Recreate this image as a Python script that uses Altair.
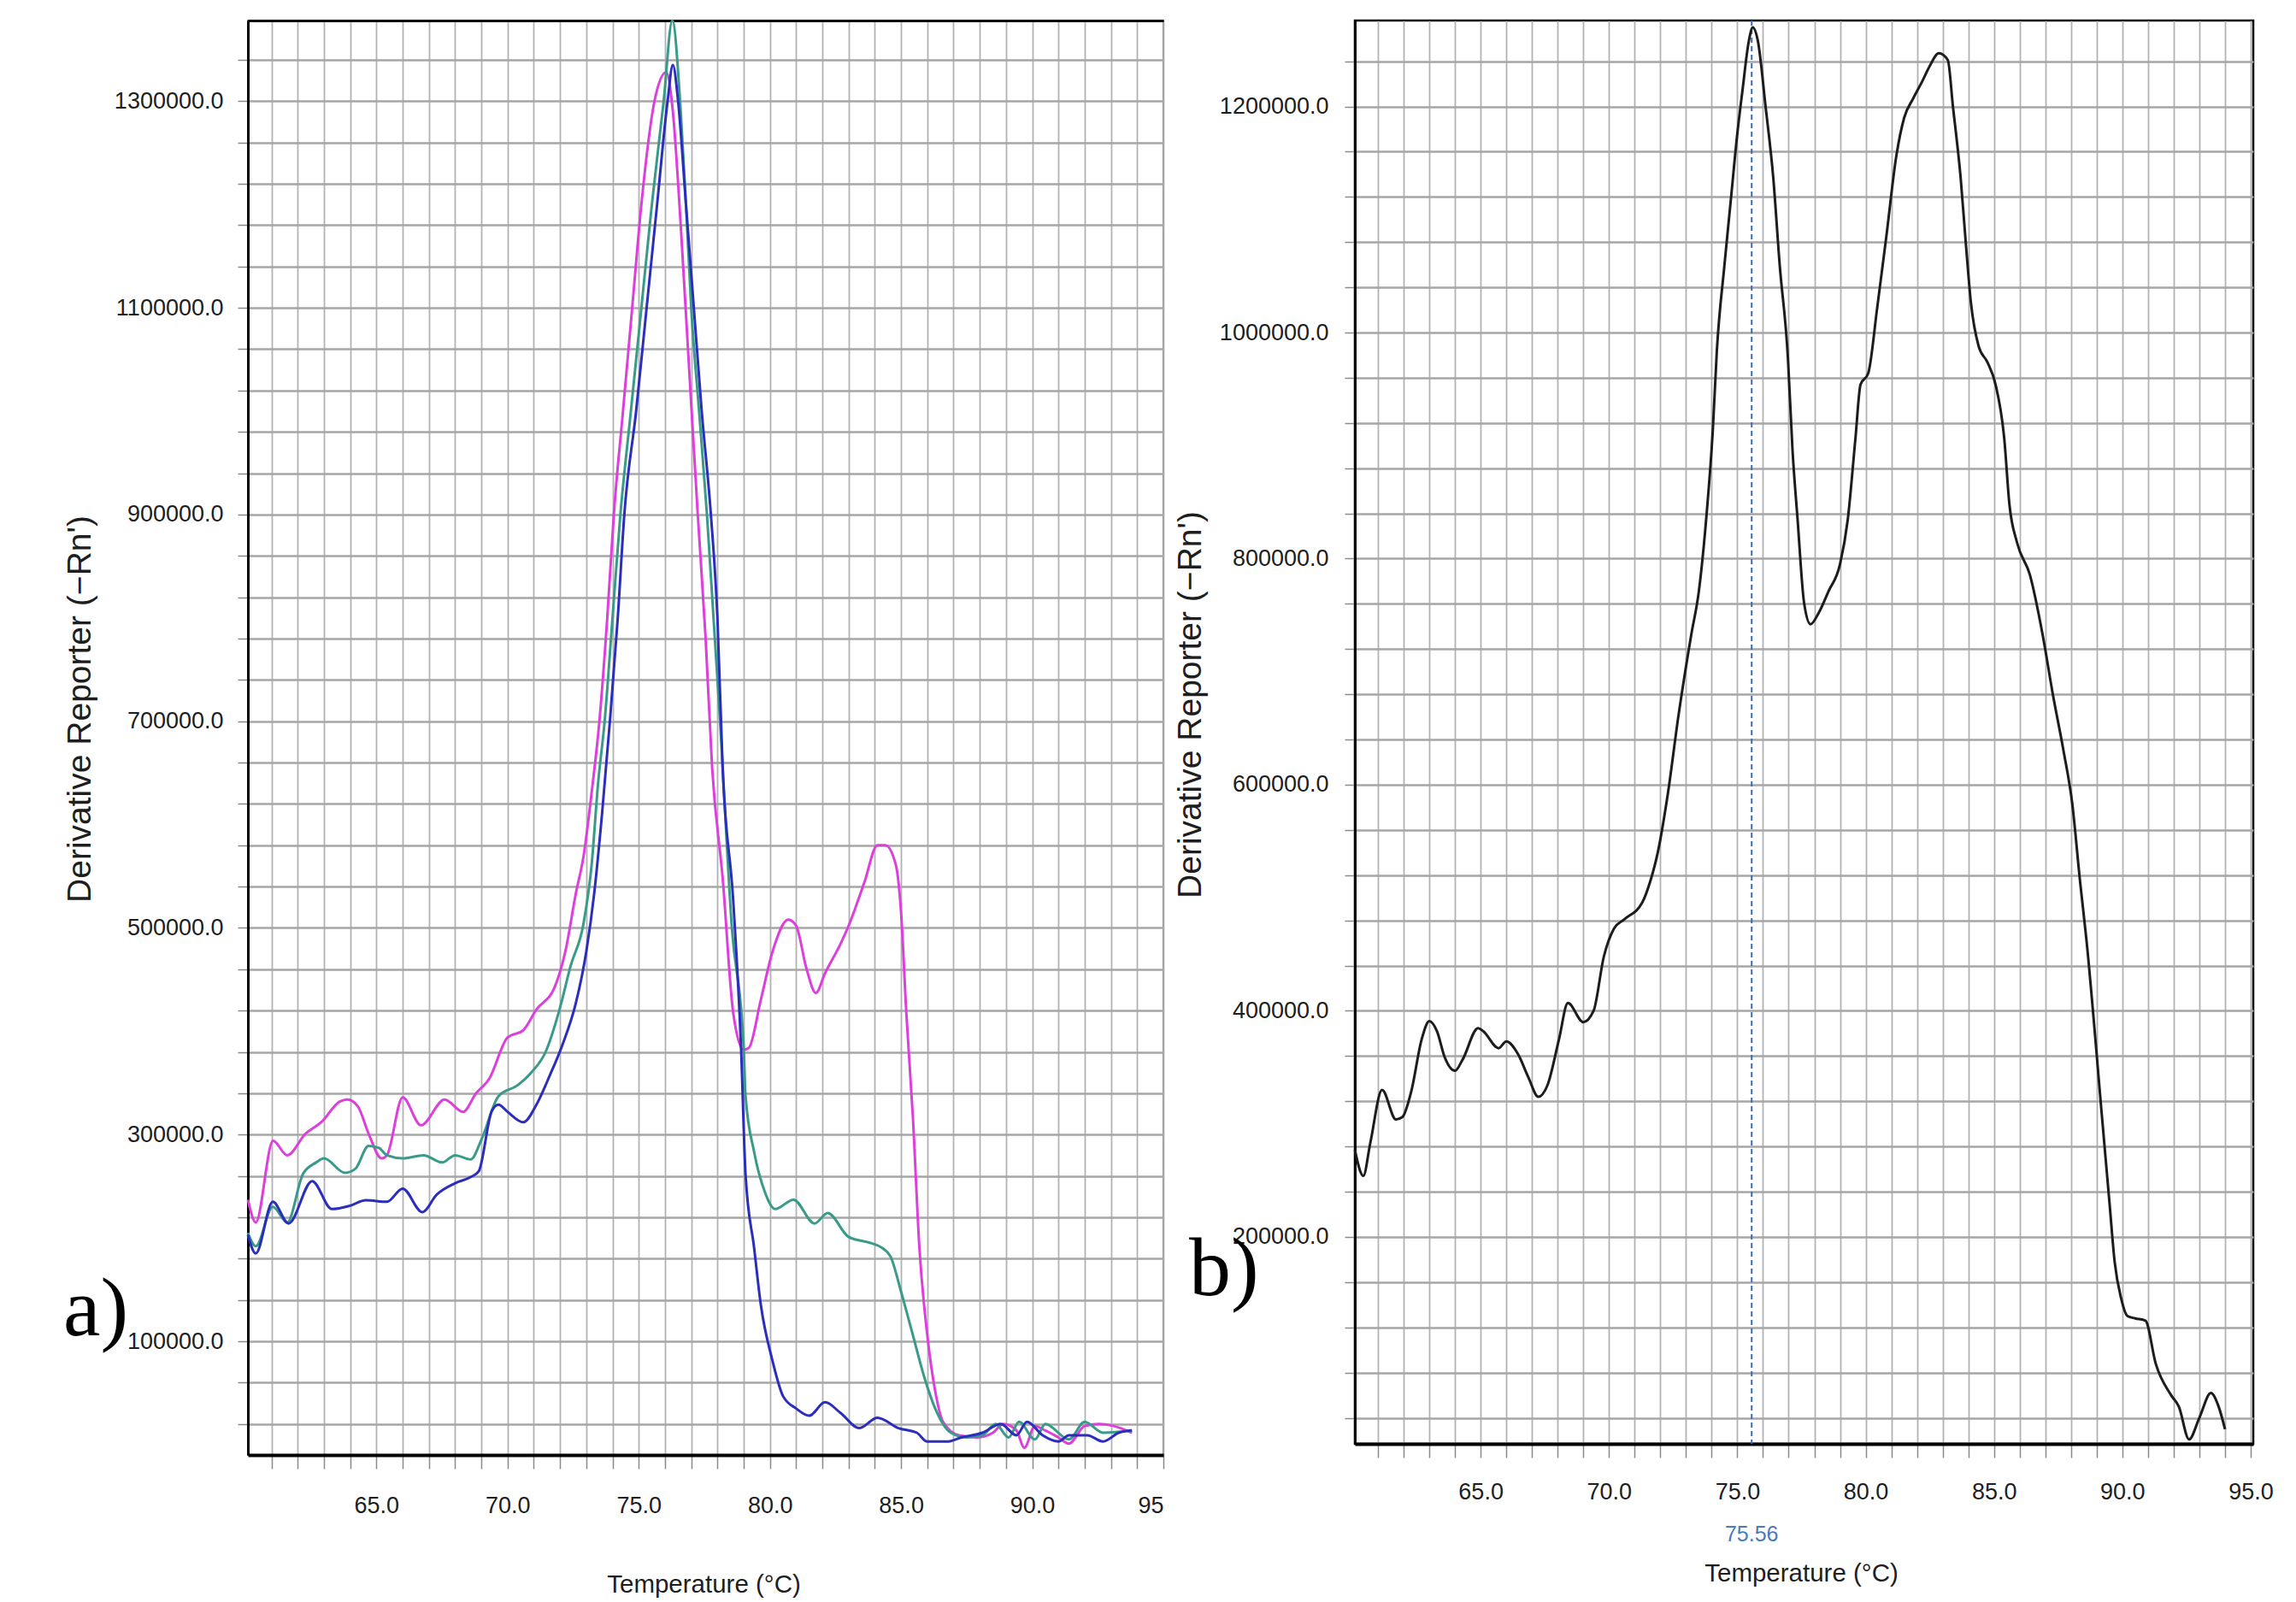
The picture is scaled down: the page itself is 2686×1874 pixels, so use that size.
import altair as alt
import pandas as pd

# ---------------- Panel a): three melt-curve replicates ----------------
a_magenta_t = [60.1, 60.4, 61.06, 61.6, 62.3, 62.9, 63.6, 63.9, 64.3, 64.7, 65.2, 65.4, 66.0, 66.7,
               67.6, 68.3, 68.8, 69.3, 70.0, 70.6, 71.1, 71.8, 72.2, 72.6, 72.9, 73.2, 73.5, 73.8,
               74.05, 74.4, 74.75, 75.1, 75.6, 76.05, 76.3, 76.6, 76.9, 77.25, 77.55, 77.8, 78.2,
               78.6, 79.0, 79.2, 79.65, 80.1, 80.7, 81.0, 81.4, 81.75, 82.1, 82.7, 83.0, 83.6, 84.1,
               84.4, 84.8, 85.0, 85.2, 85.45, 85.7, 86.0, 86.3, 86.6, 87.2, 87.9, 88.5, 88.9, 89.4,
               89.7, 90.1, 90.5, 91.0, 91.4, 92.0, 92.55, 93.1, 93.8]
a_magenta_v = [237000, 215000, 294000, 280000, 301000, 312000, 332000, 334000, 327000, 301000,
               277000, 280000, 336000, 309000, 334000, 322000, 340000, 354000, 394000, 401000,
               421000, 443000, 477000, 533000, 570000, 630000, 700000, 800000, 900000, 1000000,
               1100000, 1200000, 1300000, 1328000, 1290000, 1180000, 1050000, 900000, 780000,
               654000, 548000, 418000, 382000, 384000, 430000, 477000, 508000, 502000, 460000,
               437000, 456000, 485000, 502000, 544000, 580000, 580000, 561000, 515000, 418000,
               317000, 190000, 106000, 52000, 22000, 9000, 7000, 11500, 20000, 13700, -3000,
               18000, 13700, 7000, 1000, 18000, 20000, 18000, 11500]

a_teal_t = [60.1, 60.4, 61.05, 61.6, 62.2, 62.7, 63.0, 63.8, 64.2, 64.7, 65.1, 65.4, 66.0, 66.8,
            67.5, 68.0, 68.6, 69.0, 69.65, 70.4, 70.9, 71.45, 71.98, 72.4, 72.9, 73.2, 73.45,
            73.7, 74.0, 74.3, 74.7, 75.1, 75.5, 75.95, 76.28, 76.6, 76.8, 77.0, 77.3, 77.6,
            77.85, 78.1, 78.55, 79.0, 79.07, 79.4, 79.8, 80.2, 80.9, 81.7, 82.2, 83.0, 83.85,
            84.3, 84.6, 85.0, 85.45, 85.9, 86.3, 86.9, 87.5, 88.1, 88.6, 89.1, 89.5, 90.1, 90.5,
            91.4, 92.0, 92.7, 93.8]
a_teal_v = [205000, 192000, 230000, 215000, 262000, 273000, 277000, 263000, 267000, 289000,
            287000, 280000, 277000, 280000, 273000, 280000, 276000, 295000, 337000, 348000,
            360000, 380000, 421000, 463000, 505000, 560000, 640000, 700000, 800000, 900000,
            1000000, 1100000, 1200000, 1300000, 1378000, 1290000, 1200000, 1100000, 1000000,
            900000, 800000, 700000, 500000, 384000, 338000, 283000, 245000, 228000, 237000,
            214000, 224000, 201000, 195000, 190000, 182000, 148000, 106000, 64000, 35000, 11500,
            7000, 9000, 20000, 7000, 22000, 5000, 20000, 5000, 22000, 11500, 13700]

a_blue_t = [60.1, 60.4, 61.05, 61.65, 62.55, 63.3, 63.97, 64.6, 65.4, 66.0, 66.75, 67.3, 68.0,
            68.6, 68.9, 69.4, 69.65, 70.0, 70.6, 71.1, 71.6, 72.1, 72.6, 73.0, 73.3, 73.6, 73.9,
            74.2, 74.45, 74.9, 75.3, 75.7, 76.1, 76.3, 76.5, 76.8, 77.1, 77.4, 77.75, 78.0, 78.2,
            78.6, 78.9, 79.07, 79.4, 79.65, 80.1, 80.5, 81.0, 81.5, 82.1, 82.7, 83.4, 84.1, 84.9,
            85.6, 86.0, 86.75, 87.3, 88.1, 88.8, 89.4, 89.8, 90.4, 91.0, 91.4, 92.1, 92.7, 93.3,
            93.8]
a_blue_v = [203000, 185000, 235000, 214000, 255000, 228000, 231000, 236500, 235000, 247700,
            225000, 242000, 253000, 259000, 264500, 323000, 329000, 322000, 312000, 329000,
            356700, 387500, 427000, 477000, 533000, 610000, 700000, 800000, 900000, 1000000,
            1100000, 1200000, 1300000, 1335000, 1300000, 1200000, 1100000, 1000000, 900000,
            800000, 654000, 527000, 384000, 262000, 190000, 136000, 81000, 47000, 35000, 28000,
            41000, 30500, 16000, 26000, 16000, 11500, 3000, 3000, 7000, 11500, 20000, 9000,
            22000, 9000, 3000, 9000, 9000, 3000, 11500, 13700]

# ---------------- Panel b): single melt curve ----------------
b_t = [60.1, 60.43, 60.7, 61.16, 61.7, 61.95, 62.3, 62.7, 63.0, 63.3, 63.6, 64.0, 64.3, 64.9,
       65.1, 65.7, 66.0, 66.45, 66.85, 67.25, 67.6, 68.05, 68.4, 69.0, 69.4, 69.8, 70.2, 70.6,
       71.3, 71.6, 71.9, 72.3, 72.7, 73.2, 73.5, 73.8, 74.05, 74.2, 74.5, 74.75, 75.0, 75.2,
       75.45, 75.6, 75.8, 76.1, 76.4, 76.65, 76.97, 77.15, 77.35, 77.6, 77.85, 78.17, 78.55,
       79.0, 79.3, 79.6, 79.8, 80.1, 80.45, 80.8, 81.2, 81.5, 81.85, 82.2, 82.5, 82.85, 83.2,
       83.4, 83.7, 83.9, 84.1, 84.4, 84.75, 85.06, 85.4, 85.6, 85.9, 86.4, 86.9, 87.3, 87.7,
       88.05, 88.35, 88.6, 89.2, 89.5, 89.7, 89.95, 90.2, 90.5, 90.9, 91.3, 91.9, 92.2, 92.6,
       93.0, 93.45, 93.75, 94.0]
b_v = [277000, 254000, 283000, 330000, 304000, 306000, 329000, 374600, 391000, 382000, 359000,
       347000, 357000, 384700, 382000, 367000, 373000, 362000, 341700, 324000, 334000, 374600,
       407000, 390000, 400000, 448000, 473000, 481000, 496000, 514000, 540000, 593000, 660000,
       732000, 771000, 838500, 915600, 983000, 1060000, 1118000, 1176000, 1214000, 1258000,
       1270000, 1258000, 1200000, 1137000, 1060000, 978000, 896000, 834000, 761000, 742000,
       752000, 771000, 795000, 834000, 906000, 954000, 964000, 1022000, 1084000, 1157000,
       1190000, 1207000, 1222000, 1236000, 1247000, 1241000, 1200000, 1137000, 1079500,
       1026500, 988000, 973500, 954000, 906000, 848000, 814000, 785500, 732000, 679000, 631000,
       583000, 515000, 463000, 308000, 230000, 178000, 146000, 130000, 128000, 126000, 88000,
       60000, 50000, 21000, 40000, 62000, 50000, 30000]
b_marker = [75.56]

series_names = ["magenta", "teal", "blue"]
series_colors = ["#dc3fdc", "#3a9a8a", "#2b2dbb"]

SANS = "Liberation Sans, Arial, sans-serif"
SERIF = "Liberation Serif, Times New Roman, serif"
TXT = "#1e1e1e"

rows = []
for name, ts, vs in [("magenta", a_magenta_t, a_magenta_v),
                     ("teal", a_teal_t, a_teal_v),
                     ("blue", a_blue_t, a_blue_v)]:
    for t, v in zip(ts, vs):
        rows.append({"T": t, "V": v, "series": name})
df_a = pd.DataFrame(rows)
df_b = pd.DataFrame({"T": b_t, "V": b_v})
df_marker = pd.DataFrame({"T": b_marker})

W_A, H_A = 1071, 1678
W_B, H_B = 1051, 1665

xs_a = alt.Scale(domain=[60.1, 95.0], nice=False, zero=False)
ys_a = alt.Scale(domain=[-10000, 1378000], nice=False, zero=False)
xs_b = alt.Scale(domain=[60.1, 95.1], nice=False, zero=False)
ys_b = alt.Scale(domain=[17000, 1276000], nice=False, zero=False)

common_x = dict(grid=True, gridColor="#b2b2b2", gridWidth=1.8, ticks=True, tickSize=16,
                tickColor="#8a8a8a", tickWidth=1.5, labelFont=SANS, labelFontSize=27,
                labelColor=TXT, labelOverlap=False, labelFlush=False, domainColor="black",
                domainWidth=4, titleFont=SANS, titleFontSize=29.5, titleFontWeight="normal",
                titleColor=TXT, titleAlign="center", titleBaseline="middle")
common_y = dict(grid=True, gridColor="#a6a6a6", gridWidth=2.4, ticks=True, tickSize=12,
                tickColor="#8a8a8a", tickWidth=1.5, labelFont=SANS, labelFontSize=27,
                labelColor=TXT, labelOverlap=False, labelFlush=False, domainColor="black",
                domainWidth=3, titleFont=SANS, titleFontSize=39, titleFontWeight="normal",
                titleColor=TXT, titleAngle=270, titleAlign="center", titleBaseline="middle")

x_axis_a = alt.Axis(
    values=list(range(61, 96)),
    labelExpr="datum.value % 5 === 0 ? (datum.value === 95 ? '95' : format(datum.value, '.1f')) : ''",
    labelAlign={"condition": {"test": "datum.value === 95", "value": "right"}, "value": "center"},
    labelPadding=30, title="Temperature (°C)", titleX=533, titleY=151, **common_x)
y_axis_a = alt.Axis(
    values=[20000 + 40000 * k for k in range(34)],
    labelExpr="(datum.value - 100000) % 200000 === 0 ? format(datum.value, '.1f') : ''",
    labelPadding=17, title="Derivative Reporter (−Rn')", titleX=-197, titleY=805, **common_y)

lines_a = alt.Chart(df_a).mark_line(interpolate="monotone", strokeWidth=3).encode(
    x=alt.X("T:Q", scale=xs_a, axis=x_axis_a),
    y=alt.Y("V:Q", scale=ys_a, axis=y_axis_a),
    color=alt.Color("series:N", scale=alt.Scale(domain=series_names, range=series_colors),
                    legend=None),
    order=alt.Order("T:Q"),
)
top_a = alt.Chart(df_a).mark_point(opacity=0, size=1).encode(
    x=alt.X("T:Q", scale=xs_a,
            axis=alt.Axis(orient="top", domainColor="black", domainWidth=3, ticks=False,
                          labels=False, grid=False, title=None)),
)
label_a = alt.Chart(pd.DataFrame({"lab": ["a)"]})).mark_text(
    font=SERIF, fontSize=98, align="left", baseline="alphabetic", color="black"
).encode(x=alt.value(-216), y=alt.value(1538), text="lab:N")

left = alt.layer(lines_a, top_a, label_a).resolve_axis(x="independent").properties(
    width=W_A, height=H_A, view=alt.ViewBackground(stroke="#808080", strokeWidth=2))

x_axis_b = alt.Axis(
    values=list(range(61, 96)),
    labelExpr="datum.value % 5 === 0 ? format(datum.value, '.1f') : ''",
    labelPadding=27, title="Temperature (°C)", titleX=522, titleY=151, **common_x)
y_axis_b = alt.Axis(
    values=[40000 * k for k in range(1, 32)],
    labelExpr="datum.value % 200000 === 0 ? format(datum.value, '.1f') : ''",
    labelPadding=19, title="Derivative Reporter (−Rn')", titleX=-193, titleY=800, **common_y)

rule_b = alt.Chart(df_marker).mark_rule(color="#3a6db0", strokeDash=[6, 4], strokeWidth=2).encode(
    x=alt.X("T:Q", scale=xs_b, axis=x_axis_b))
marker_text_b = alt.Chart(df_marker).mark_text(
    font=SANS, fontSize=25, color="#4a7ab8", baseline="middle", align="center"
).encode(x=alt.X("T:Q", scale=xs_b, axis=x_axis_b), y=alt.value(1771),
         text=alt.Text("T:Q", format=".2f"))
line_b = alt.Chart(df_b).mark_line(interpolate="monotone", strokeWidth=3, color="#1c1c1c").encode(
    x=alt.X("T:Q", scale=xs_b, axis=x_axis_b),
    y=alt.Y("V:Q", scale=ys_b, axis=y_axis_b),
    order=alt.Order("T:Q"),
)
label_b = alt.Chart(pd.DataFrame({"lab": ["b)"]})).mark_text(
    font=SERIF, fontSize=98, align="left", baseline="alphabetic", color="black"
).encode(x=alt.value(-194), y=alt.value(1491), text="lab:N")

right = alt.layer(rule_b, line_b, marker_text_b, label_b).properties(
    width=W_B, height=H_B, view=alt.ViewBackground(stroke="black", strokeWidth=2.5))

chart = alt.hconcat(left, right, spacing=8).properties(
    padding={"left": 65, "top": 9, "right": 5, "bottom": 0}
).configure(background="white")

chart.save("out.html", embed_options={"renderer": "svg", "actions": False})
